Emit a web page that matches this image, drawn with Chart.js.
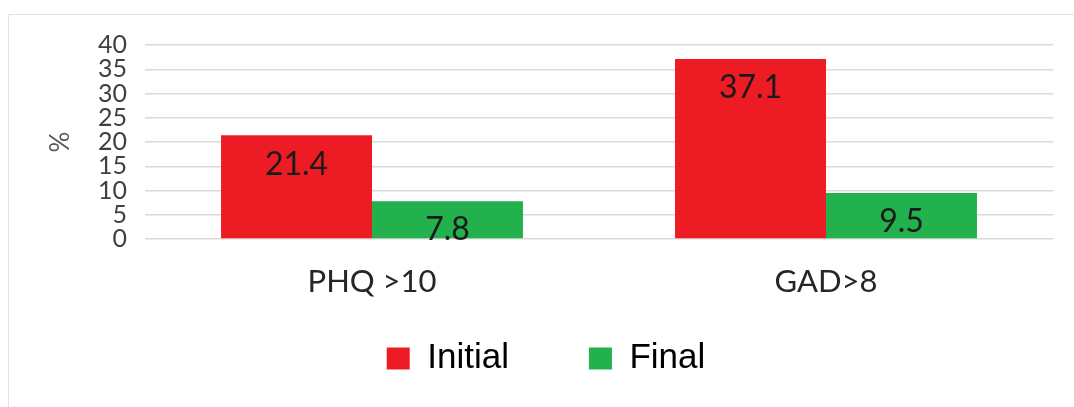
<!DOCTYPE html>
<html>
<head>
<meta charset="utf-8">
<script src="https://cdn.jsdelivr.net/npm/chart.js@4.4.1/dist/chart.umd.min.js"></script>
<style>
  html, body { margin: 0; padding: 0; background: #ffffff; overflow: hidden; }
  #wrap { position: relative; width: 1074px; height: 407px; }
  #frame {
    position: absolute; left: 8px; top: 14px; width: 1100px; height: 420px;
    border: 1px solid #e3e3e3; box-sizing: border-box;
  }
  #chart { position: absolute; left: 0; top: 0; }
</style>
</head>
<body>
<div id="wrap">
  <div id="frame"></div>
  <canvas id="chart" width="1074" height="407"></canvas>
</div>
<script>
// Share of patients above the screening cut-offs, before and after
const categories = ['PHQ >10', 'GAD>8'];
const seriesNames = ['Initial', 'Final'];
const initialValues = [21.4, 37.1];
const finalValues = [7.8, 9.5];
const yTicks = [0, 5, 10, 15, 20, 25, 30, 35, 40];
const yTitle = '%';

const RED = '#ED1C24';
const GREEN = '#22B14C';

// Writes each bar's value just below its top edge
const barValueLabels = {
  id: 'barValueLabels',
  afterDatasetsDraw(chart) {
    const ctx = chart.ctx;
    ctx.save();
    ctx.font = '32px Lato';
    ctx.fillStyle = '#1a1a1a';
    ctx.textAlign = 'center';
    ctx.textBaseline = 'middle';
    chart.data.datasets.forEach((ds, di) => {
      const meta = chart.getDatasetMeta(di);
      meta.data.forEach((bar, i) => {
        ctx.fillText(String(ds.data[i]), bar.x, bar.y + 29);
      });
    });
    ctx.restore();
  }
};

// The category axis box is kept short so the wide-spaced legend can sit
// close under it; extend the box afterwards so its labels are not clipped.
const categoryLabelRoom = {
  id: 'categoryLabelRoom',
  afterLayout(chart) {
    const x = chart.scales.x;
    x.bottom += 50;
    x.height += 50;
  }
};

new Chart(document.getElementById('chart'), {
  type: 'bar',
  data: {
    labels: categories,
    datasets: [
      { label: seriesNames[0], data: initialValues, backgroundColor: RED, borderWidth: 0 },
      { label: seriesNames[1], data: finalValues, backgroundColor: GREEN, borderWidth: 0 }
    ]
  },
  plugins: [barValueLabels, categoryLabelRoom],
  options: {
    responsive: false,
    animation: false,
    layout: { padding: { left: 39, right: 21, top: 45, bottom: 21 } },
    datasets: {
      bar: { categoryPercentage: 0.665, barPercentage: 1.0 }
    },
    scales: {
      x: {
        grid: { display: false, drawTicks: false },
        border: { display: false },
        ticks: {
          padding: 24,
          color: '#262626',
          font: { family: 'Lato', size: 31 }
        },
        afterFit(scale) { scale.height = 22; }
      },
      y: {
        min: 0,
        max: 40,
        afterBuildTicks(scale) { scale.ticks = yTicks.map(v => ({ value: v })); },
        grid: { color: '#dadada', lineWidth: 1.5, drawTicks: false },
        border: { display: false },
        ticks: {
          autoSkip: false,
          padding: 18,
          color: '#404040',
          font: { family: 'Lato', size: 25 }
        },
        title: {
          display: true,
          text: yTitle,
          color: '#595959',
          padding: { top: 6, bottom: 0 },
          font: { family: 'Lato', size: 26 }
        },
        afterFit(scale) { scale.width = 106; }
      }
    },
    plugins: {
      tooltip: { enabled: false },
      legend: {
        position: 'bottom',
        labels: {
          boxWidth: 23,
          boxHeight: 22,
          padding: 80,
          color: '#000000',
          font: { family: 'Liberation Sans', size: 35 }
        }
      }
    }
  }
});
</script>
</body>
</html>
